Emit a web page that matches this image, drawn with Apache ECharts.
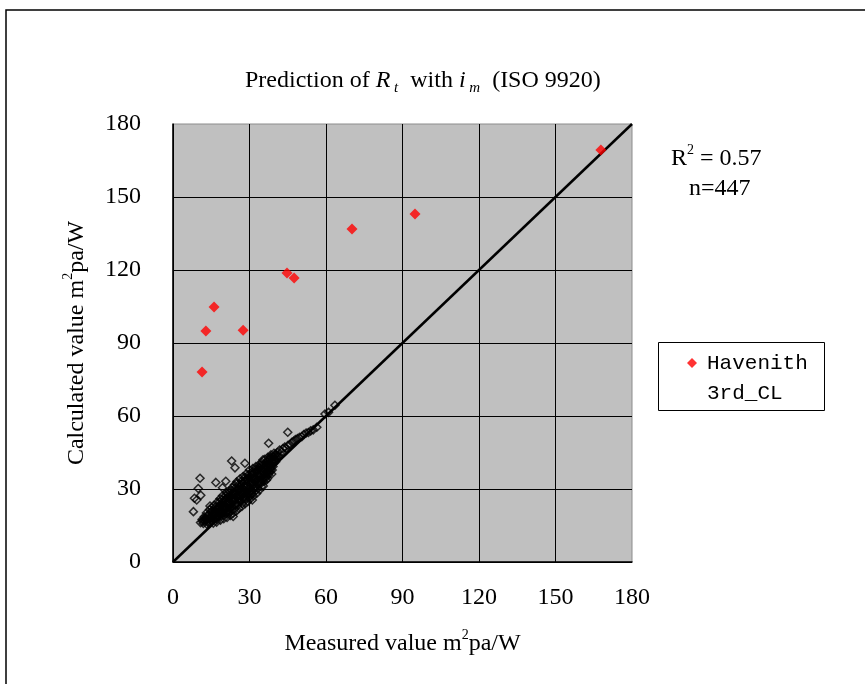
<!DOCTYPE html>
<html>
<head>
<meta charset="utf-8">
<script src="https://cdn.jsdelivr.net/npm/echarts@6/dist/echarts.min.js"></script>
<style>
  html, body { margin: 0; padding: 0; background: #fff; }
  #chart { width: 865px; height: 684px; }
</style>
</head>
<body>
<div id="chart"></div>
<script>
// Axis ticks (same scale on both axes)
const axisTicks = [0, 30, 60, 90, 120, 150, 180];

// Measured vs calculated values, main data set [measured, calculated]
const mainPoints = [
  // lower part of the band
  [10.8,16.2],[11.4,17.5],[11.9,15.8],[12.3,18.6],[12.6,16.9],[13.1,20.1],[13.2,15.6],[13.7,17.8],
  [14.0,19.4],[14.3,21.5],[14.6,16.3],[15.0,18.2],[15.2,22.4],[15.5,20.0],[15.8,16.0],[16.1,23.3],
  [16.3,17.6],[16.6,19.8],[16.9,21.7],[17.1,16.4],[17.3,24.6],[17.6,18.5],[17.9,22.8],[18.2,20.4],
  [18.4,26.0],[18.6,17.2],[18.9,24.1],[19.1,19.0],[19.4,27.2],[19.6,21.9],[19.9,17.8],[20.2,25.5],
  [20.4,23.1],[20.7,19.6],[20.9,28.4],[21.2,18.3],[21.5,26.7],[21.7,21.2],[22.0,29.3],[22.2,24.4],
  [22.5,19.1],[22.7,27.8],[23.0,22.6],[23.2,30.5],[23.5,20.0],[23.7,25.9],[24.0,31.6],[24.2,28.6],
  [24.5,23.4],[24.8,20.9],[25.0,33.0],[25.2,26.8],[25.5,30.1],[25.8,22.0],[26.0,24.7],[26.3,34.2],
  [26.5,28.9],[26.8,31.8],[27.0,22.8],[27.3,26.2],[27.5,35.1],[27.8,29.7],[28.0,33.4],[28.3,24.0],
  [28.5,27.5],[28.8,36.3],[29.0,31.2],[29.3,24.8],[29.5,34.6],[29.8,28.3],[30.0,37.8],[30.3,26.0],
  [30.5,32.4],[30.8,35.9],[31.0,29.4],[31.3,38.4],[31.5,27.1],[31.8,33.7],[32.0,36.8],[32.3,30.6],
  [32.5,39.2],[32.8,28.2],[33.0,34.9],[33.3,37.9],[33.5,31.8],[33.8,40.1],[34.0,29.6],[34.3,36.2],
  [34.6,33.0],[34.9,41.0],[35.1,38.6],[35.4,31.2],[35.7,35.0],[36.0,42.2],[36.3,39.7],[36.6,33.6],
  [36.9,37.2],[37.2,43.0],[37.5,35.8],[37.8,40.6],[38.1,38.3],[38.4,44.1],[38.8,41.4],[39.2,39.2],
  [39.6,44.7],[40.0,42.3],
  // core of the band
  [12.0,17.3],[12.9,18.0],[13.5,16.6],[14.2,17.9],[14.8,20.4],[15.3,17.0],[15.9,19.1],[16.4,21.0],
  [16.8,18.2],[17.4,20.6],[17.7,22.0],[18.0,18.9],[18.5,21.4],[18.8,23.2],[19.3,20.1],[19.7,22.7],
  [20.0,24.3],[20.5,21.5],[20.8,26.2],[21.1,23.8],[21.4,20.5],[21.8,25.0],[22.1,22.1],[22.4,26.5],
  [22.9,24.0],[23.3,27.4],[23.6,23.2],[23.9,29.0],[24.4,25.8],[24.7,27.9],[25.1,24.1],[25.4,29.4],
  [25.7,26.1],[26.1,31.0],[26.4,27.2],[26.7,25.0],[27.1,30.4],[27.4,32.6],[27.7,27.9],[28.1,26.0],
  [28.4,30.9],[28.7,34.0],[29.1,28.8],[29.4,32.7],[29.7,26.6],[30.1,30.2],[30.4,34.4],[30.7,28.1],
  [31.1,36.2],[31.4,31.7],[31.7,29.9],[32.1,34.8],[32.4,32.9],[32.7,37.5],[33.1,30.3],[33.4,35.6],
  [33.7,33.4],[34.1,38.6],[34.4,32.2],[34.8,36.9],[35.2,34.1],[35.5,40.0],[35.9,36.3],[36.2,38.2],
  [36.5,35.2],[36.8,41.3],[37.1,38.9],[37.4,37.0],[37.7,42.5],[38.0,40.0],[38.3,37.6],[38.7,42.9],
  [39.0,40.8],[39.4,43.2],[39.8,41.5],[40.2,44.2],[40.5,43.0],[40.9,45.0],[41.3,43.9],
  // further values inside the band
  [11.6,16.6],[12.7,17.7],[13.4,19.0],[14.1,16.0],[14.7,18.6],[15.4,21.2],[15.7,17.6],[16.2,19.9],
  [16.7,22.6],[17.2,17.5],[17.5,19.6],[18.1,22.3],[18.3,24.8],[18.7,19.8],[19.2,25.8],[19.5,23.0],
  [19.8,19.0],[20.1,21.0],[20.6,27.3],[20.9,22.4],[21.3,24.6],[21.6,28.0],[21.9,19.9],[22.3,23.1],
  [22.6,25.6],[22.8,29.5],[23.1,21.4],[23.4,26.3],[23.8,28.2],[24.1,21.8],[24.3,30.3],[24.6,26.7],
  [24.9,32.2],[25.3,23.2],[25.6,27.8],[25.9,31.9],[26.2,25.9],[26.6,30.0],[26.9,33.3],[27.2,24.0],
  [27.6,28.5],[27.9,31.3],[28.2,34.8],[28.6,25.8],[28.9,29.6],[29.2,33.6],[29.6,35.8],[29.9,30.9],
  [30.2,27.0],[30.6,33.3],[30.9,37.0],[31.2,28.0],[31.6,35.1],[31.9,31.0],[32.2,38.1],[32.6,29.4],
  [32.9,33.8],[33.2,36.4],[33.6,39.0],[33.9,32.5],[34.2,35.0],[34.5,39.8],[34.7,31.0],[35.0,37.6],
  [35.3,42.0],[35.6,33.2],[35.8,38.9],[36.1,34.3],[36.4,40.8],[36.7,36.5],[37.0,34.2],[37.3,39.7],
  [37.6,41.8],[37.9,36.8],[38.2,43.2],[38.5,39.0],[38.9,37.8],[39.1,42.0],[39.5,40.5],[39.9,43.8],
  [40.3,41.2],[40.7,44.0],
  // upper tail along the diagonal
  [41.8,46.0],[42.6,45.2],[43.1,46.6],[43.8,47.2],[44.4,46.8],[45.1,48.0],[45.9,48.3],[46.6,49.2],
  [47.3,49.6],[48.0,50.3],[48.8,50.7],[49.6,51.2],[50.5,51.5],[51.3,52.4],[52.2,53.0],[53.1,53.2],
  [54.0,53.9],[55.0,54.3],[56.4,55.4],[59.6,60.8],[61.0,61.5],[63.5,64.4],
  // scattered values above and below the band
  [45.0,53.3],[37.5,48.8],[23.0,41.5],[28.2,40.6],[24.3,38.7],[10.6,34.4],[16.8,32.7],[20.7,33.2],
  [19.4,30.5],[9.9,30.2],[8.4,26.2],[9.3,25.5],[8.0,20.7],[14.5,23.0],[31.1,25.5],[23.6,18.7],
  [38.7,36.2],[10.9,27.4]
];

// Havenith 3rd_CL values [measured, calculated]
const havenithPoints = [
  [11.4,78.1],[12.9,94.9],[16.1,104.8],[27.5,95.2],[44.7,118.8],[47.5,116.7],
  [70.2,136.9],[94.9,143.0],[167.8,169.3]
];

// 1:1 reference line
const identityLine = [[0,0],[180,180]];

const statR2 = '0.57';
const statN = '447';
const havenithName = 'Havenith 3rd_CL';

const serif = 'Liberation Serif';
const chart = echarts.init(document.getElementById('chart'), null, { renderer: 'canvas' });

const nameRich = {
  n: { fontFamily: serif, fontSize: 24, color: '#000', lineHeight: 28, verticalAlign: 'bottom' },
  sup: { fontFamily: serif, fontSize: 14, color: '#000', lineHeight: 14, verticalAlign: 'top' }
};

function axisCommon() {
  return {
    type: 'value',
    min: 0,
    max: 180,
    interval: 30,
    axisLine: { show: true, onZero: false, lineStyle: { color: '#000', width: 1.5 } },
    axisTick: { show: false },
    splitLine: { show: true, showMaxLine: false, lineStyle: { color: '#000', width: 1 } },
    nameLocation: 'middle'
  };
}

chart.setOption({
  animation: false,
  backgroundColor: '#fff',
  title: {
    text: '{n|Prediction of }{i|R}{s| t}{n|  with }{i|i}{s| m}{n|  (ISO 9920)}',
    left: 240,
    top: 64,
    textStyle: {
      fontWeight: 'normal',
      rich: {
        n: { fontFamily: serif, fontSize: 24, fontWeight: 'normal', color: '#000', lineHeight: 27, verticalAlign: 'top' },
        i: { fontFamily: serif, fontSize: 24, fontWeight: 'normal', fontStyle: 'italic', color: '#000', lineHeight: 27, verticalAlign: 'top' },
        s: { fontFamily: serif, fontSize: 15, fontWeight: 'normal', fontStyle: 'italic', color: '#000', lineHeight: 15, verticalAlign: 'bottom' }
      }
    }
  },
  grid: {
    left: 173,
    top: 124,
    right: 233,
    bottom: 122,
    show: true,
    backgroundColor: '#c0c0c0',
    borderColor: '#8c8c8c',
    borderWidth: 1
  },
  xAxis: Object.assign(axisCommon(), {
    name: '{n|Measured value m}{sup|2}{n|pa/W}',
    nameGap: 66,
    nameTextStyle: { rich: nameRich },
    axisLabel: {
      fontFamily: serif, fontSize: 24, color: '#000', margin: 24,
      formatter: v => axisTicks.includes(v) ? String(v) : ''
    }
  }),
  yAxis: Object.assign(axisCommon(), {
    name: '{n|Calculated value m}{sup|2}{n|pa/W}',
    nameGap: 84,
    nameRotate: 90,
    nameTextStyle: { rich: nameRich },
    axisLabel: {
      fontFamily: serif, fontSize: 24, color: '#000', margin: 32,
      formatter: v => axisTicks.includes(v) ? String(v) : ''
    }
  }),
  legend: {
    data: [{ name: havenithName, icon: 'diamond' }],
    left: 687,
    top: 318,
    padding: 0,
    itemWidth: 10,
    itemHeight: 10,
    selectedMode: false,
    // blank first line keeps the marker level with the first word
    formatter: name => ' \n' + name.replace(' ', '\n'),
    textStyle: {
      fontFamily: 'Liberation Mono',
      fontSize: 21,
      color: '#000',
      lineHeight: 30,
      padding: [0, 0, 0, 5]
    }
  },
  graphic: [
    {
      type: 'polyline',
      shape: { points: [[6, 690], [6, 10], [870, 10]] },
      style: { stroke: '#000', lineWidth: 1.5, fill: null },
      silent: true
    },
    {
      type: 'rect',
      shape: { x: 658.5, y: 342.5, width: 166, height: 68 },
      style: { stroke: '#000', lineWidth: 1, fill: null },
      silent: true
    },
    {
      type: 'text',
      left: 671,
      top: 143,
      style: {
        text: '{n|R}{sup|2}{n| = ' + statR2 + '}',
        rich: {
          n: { fontFamily: serif, fontSize: 24, fill: '#000', lineHeight: 28, verticalAlign: 'bottom' },
          sup: { fontFamily: serif, fontSize: 14, fill: '#000', lineHeight: 14, verticalAlign: 'top' }
        }
      },
      silent: true
    },
    {
      type: 'text',
      left: 689,
      top: 177,
      style: { text: 'n=' + statN, font: '24px "Liberation Serif"', fill: '#000' },
      silent: true
    }
  ],
  series: [
    {
      name: 'Measured',
      type: 'scatter',
      data: mainPoints,
      symbol: 'diamond',
      symbolSize: 8,
      itemStyle: { color: 'rgba(0,0,0,0)', borderColor: '#000', borderWidth: 1.5 },
      z: 2
    },
    {
      name: 'Identity',
      type: 'line',
      data: identityLine,
      symbol: 'none',
      lineStyle: { color: '#000', width: 2.5 },
      z: 3
    },
    {
      name: havenithName,
      type: 'scatter',
      data: havenithPoints,
      symbol: 'diamond',
      symbolSize: 11,
      itemStyle: { color: '#ff0000' },
      z: 4
    }
  ]
});
</script>
</body>
</html>
